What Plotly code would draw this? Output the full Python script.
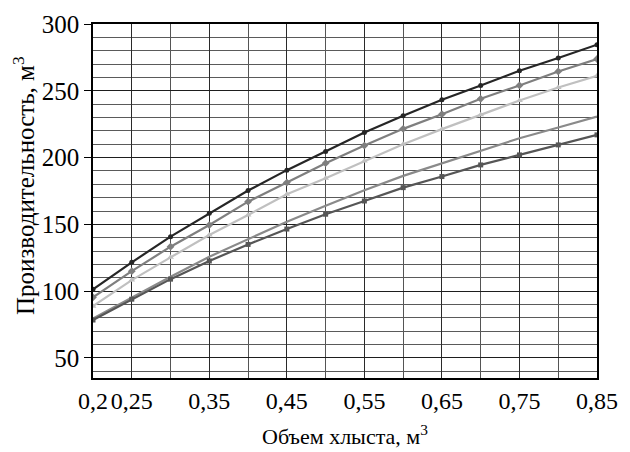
import plotly.graph_objects as go

x_vals = [0.2, 0.25, 0.3, 0.35, 0.4, 0.45, 0.5, 0.55, 0.6, 0.65, 0.7, 0.75, 0.8, 0.85]
s1 = [101.4, 121.6, 140.8, 158.3, 175.3, 190.6, 204.5, 218.7, 231.3, 243.3, 254.0, 265.0, 274.5, 284.5]
s2 = [95.4, 115.0, 133.3, 149.5, 167.0, 181.3, 195.8, 209.0, 221.5, 232.5, 244.0, 254.0, 264.5, 273.8]
s3 = [88.8, 108.3, 125.3, 142.0, 157.0, 172.6, 184.6, 197.5, 210.0, 221.3, 232.0, 242.7, 252.5, 261.2]
s4 = [79.6, 95.4, 110.8, 125.8, 139.0, 152.0, 164.0, 175.5, 186.3, 195.8, 205.3, 214.5, 222.5, 230.7]
s5 = [78.4, 94.0, 109.0, 122.6, 135.0, 146.5, 157.6, 167.5, 177.5, 185.8, 194.5, 202.0, 209.5, 217.0]

x_tickvals = [0.2, 0.25, 0.35, 0.45, 0.55, 0.65, 0.75, 0.85]
x_ticktext = ["0,2", "0,25", "0,35", "0,45", "0,55", "0,65", "0,75", "0,85"]

series = [
    (s1, "#262626", "circle", 5),
    (s2, "#7f7f7f", "diamond", 6),
    (s3, "#c0c0c0", "triangle-up", 6),
    (s4, "#8a8a8a", "line-ew", 2),
    (s5, "#565656", "square", 5),
]

fig = go.Figure()
for ys, col, sym, sz in series:
    fig.add_trace(go.Scatter(
        x=x_vals, y=ys, mode="lines+markers",
        line=dict(color=col, width=2.2),
        marker=dict(symbol=sym, size=sz, color=col),
        showlegend=False,
    ))

font = "Liberation Serif"
fig.update_layout(
    width=630, height=452,
    margin=dict(l=93, r=33, t=24, b=74),
    paper_bgcolor="white", plot_bgcolor="white",
    font=dict(family=font, size=24, color="black"),
)
fig.add_annotation(
    text="Производительность, м<sup>3</sup>",
    xref="paper", yref="paper", x=-0.137, y=0.545,
    xanchor="center", yanchor="middle", textangle=-90, showarrow=False,
    font=dict(size=25, family=font, color="black"),
)
fig.update_xaxes(
    range=[0.2, 0.85], automargin=False,
    tickmode="array", tickvals=x_tickvals, ticktext=x_ticktext, tickangle=0,
    showgrid=True, gridcolor="#2a2a2a", gridwidth=1.3,
    minor=dict(dtick=0.05, tick0=0.2, showgrid=True, gridcolor="#555555", gridwidth=1.3),
    showline=True, linecolor="black", linewidth=1.5, mirror=True,
    ticks="", ticklen=0,
    tickfont=dict(size=24, family=font),
    title=dict(text="Объем хлыста, м<sup>3</sup>", font=dict(size=22, family=font), standoff=16),
    zeroline=False,
)
fig.update_yaxes(
    range=[35, 300], automargin=False,
    tickmode="array", tickvals=[50, 100, 150, 200, 250, 300],
    showgrid=True, gridcolor="#1e1e1e", gridwidth=1.3,
    minor=dict(dtick=10, tick0=0, showgrid=True, gridcolor="#5a5a5a", gridwidth=1.3),
    showline=True, linecolor="black", linewidth=1.5, mirror=True,
    ticks="outside", ticklen=7, tickcolor="black",
    tickfont=dict(size=25, family=font),
    zeroline=False,
)

fig.write_html("out.html")
